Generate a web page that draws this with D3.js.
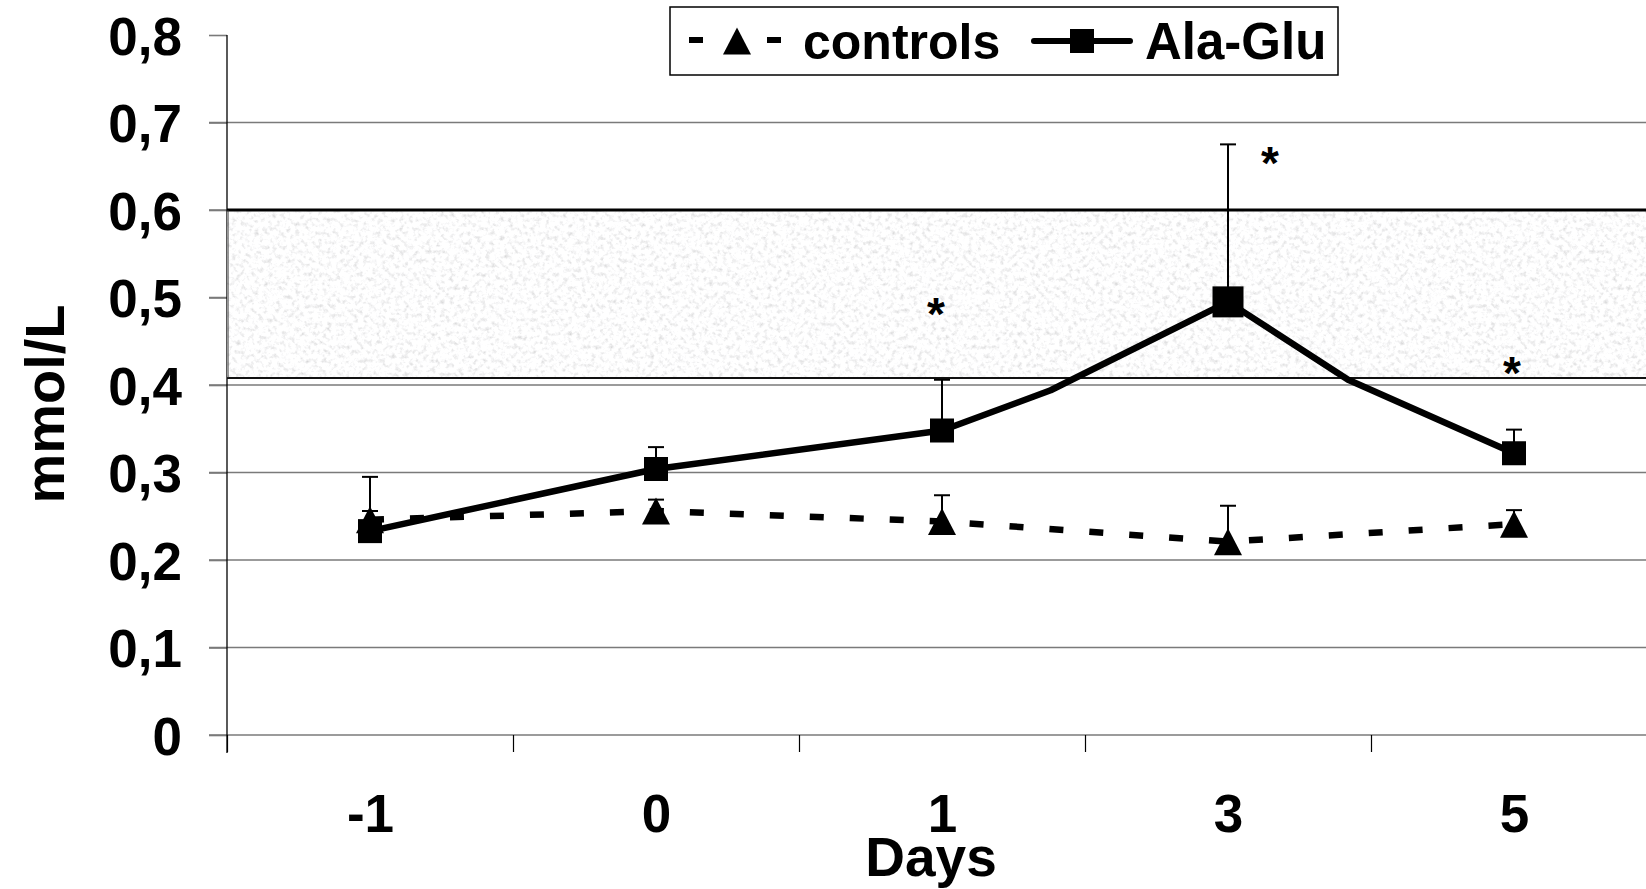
<!DOCTYPE html>
<html>
<head>
<meta charset="utf-8">
<script src="https://cdn.jsdelivr.net/npm/d3@7"></script>
<style>
  html, body { margin: 0; padding: 0; background: #fff; overflow: hidden; }
  text { font-family: "Liberation Sans", Arial, sans-serif; font-weight: bold; fill: #000; }
</style>
</head>
<body>
<svg id="chart" width="1646" height="889"></svg>
<script>
// Days on the x axis
const days = ["-1", "0", "1", "3", "5"];

// Ala-Glu group: mean and upper error
const alaGlu = [0.233, 0.304, 0.348, 0.495, 0.322];
const alaGluSD = [0.062, 0.025, 0.058, 0.18, 0.027];
// bends the drawn Ala-Glu line makes between days (slot position, value)
const alaGluBendPos = [2.38, 3.42];
const alaGluBendVal = [0.394, 0.406];

// controls group
const controls = [0.246, 0.256, 0.244, 0.221, 0.241];
const controlsSD = [0.01, 0.013, 0.03, 0.041, 0.016];

// shaded normal range
const normalRange = [0.408, 0.6];

// significance stars
const starDays = ["1", "3", "5"];
const starVals = [0.488, 0.66, 0.42];

const yTicks = [0, 0.1, 0.2, 0.3, 0.4, 0.5, 0.6, 0.7, 0.8];

const W = 1646;
const svg = d3.select("#chart");

const x = d3.scaleLinear().domain([-0.5, 4.5]).range([227, 1657]);
const y = d3.scaleLinear().domain([0, 0.8]).range([735, 35]);

// speckled texture for the normal range band
const defs = svg.append("defs");
const grain = defs.append("filter").attr("id", "grain")
  .attr("x", 0).attr("y", 0).attr("width", 1).attr("height", 1);
grain.append("feTurbulence").attr("type", "fractalNoise")
  .attr("baseFrequency", 0.22).attr("numOctaves", 3).attr("seed", 7).attr("result", "n");
grain.append("feColorMatrix").attr("in", "n").attr("type", "matrix")
  .attr("values", "0.7 0 0 0 0.64  0.7 0 0 0 0.64  0.7 0 0 0 0.645  0 0 0 0 1")
  .attr("result", "g");
grain.append("feComposite").attr("in", "g").attr("in2", "SourceGraphic").attr("operator", "in");

// gridlines
svg.append("g")
  .selectAll("line")
  .data(yTicks.filter(d => d < 0.8))
  .enter()
  .append("line")
  .attr("x1", 209).attr("x2", W)
  .attr("y1", d => y(d)).attr("y2", d => y(d))
  .attr("stroke", "#7a7a7a")
  .attr("stroke-width", 1.6);

// y axis
const yAxis = svg.append("g")
  .attr("transform", "translate(227,0)")
  .call(d3.axisLeft(y)
    .tickValues(yTicks)
    .tickSize(18)
    .tickPadding(27)
    .tickFormat(d => d === 0 ? "0" : d3.format(".1f")(d).replace(".", ",")));
yAxis.select(".domain").remove();
yAxis.selectAll(".tick line").attr("stroke", "#7a7a7a").attr("stroke-width", 1.6);
yAxis.selectAll(".tick text").attr("font-size", 53).attr("dy", "0.36em")
  .style("font-family", '"Liberation Sans", Arial, sans-serif').style("font-weight", "bold");

svg.append("line")
  .attr("x1", 227).attr("x2", 227)
  .attr("y1", y(0.8)).attr("y2", y(0) + 18)
  .attr("stroke", "#000").attr("stroke-width", 1.3);

// x axis ticks at slot boundaries
const xTicks = svg.append("g")
  .attr("transform", "translate(0,735)")
  .call(d3.axisBottom(x).tickValues([-0.5, 0.5, 1.5, 2.5, 3.5]).tickSize(17).tickFormat(""));
xTicks.select(".domain").remove();
xTicks.selectAll(".tick line").attr("stroke", "#000").attr("stroke-width", 1.2);

// x labels
const xLabels = svg.append("g")
  .attr("transform", "translate(0,735)")
  .call(d3.axisBottom(x).tickValues(d3.range(days.length)).tickSize(0).tickPadding(59)
    .tickFormat(i => days[i]));
xLabels.select(".domain").remove();
xLabels.selectAll(".tick text").attr("font-size", 53)
  .style("font-family", '"Liberation Sans", Arial, sans-serif').style("font-weight", "bold");

// axis titles
svg.append("text")
  .attr("x", 931).attr("y", 876)
  .attr("text-anchor", "middle")
  .attr("font-size", 55)
  .text("Days");

svg.append("text")
  .attr("transform", "translate(64,404) rotate(-90)")
  .attr("text-anchor", "middle")
  .attr("font-size", 56)
  .text("mmol/L");

// normal range band
svg.append("rect")
  .attr("x", 227).attr("y", y(normalRange[1]))
  .attr("width", W - 227).attr("height", y(normalRange[0]) - y(normalRange[1]))
  .attr("fill", "#f0f0f0")
  .attr("filter", "url(#grain)");
svg.append("line")
  .attr("x1", 227).attr("x2", W).attr("y1", y(normalRange[1])).attr("y2", y(normalRange[1]))
  .attr("stroke", "#000").attr("stroke-width", 3);
svg.append("line")
  .attr("x1", 227).attr("x2", W).attr("y1", y(normalRange[0])).attr("y2", y(normalRange[0]))
  .attr("stroke", "#111").attr("stroke-width", 2);
svg.append("line")
  .attr("x1", 228).attr("x2", 228).attr("y1", y(normalRange[1])).attr("y2", y(normalRange[0]))
  .attr("stroke", "#333").attr("stroke-width", 1);

// lines
const line = d3.line().x(d => x(d[0])).y(d => y(d[1]));

const controlsPts = controls.map((v, i) => [i, v]);
svg.append("path")
  .datum(controlsPts)
  .attr("d", line)
  .attr("fill", "none")
  .attr("stroke", "#000")
  .attr("stroke-width", 6.5)
  .attr("stroke-dasharray", "14,26");

const alaPts = alaGlu.map((v, i) => [i, v])
  .concat(alaGluBendPos.map((p, k) => [p, alaGluBendVal[k]]))
  .sort((a, b) => a[0] - b[0]);
svg.append("path")
  .datum(alaPts)
  .attr("d", line)
  .attr("fill", "none")
  .attr("stroke", "#000")
  .attr("stroke-width", 6.5)
  .attr("stroke-linejoin", "round");

// error bars (upper only)
function errorBars(means, sds) {
  const g = svg.append("g").attr("stroke", "#000").attr("stroke-width", 2);
  g.selectAll("line.v")
    .data(means)
    .enter()
    .append("line")
    .attr("x1", (d, i) => x(i)).attr("x2", (d, i) => x(i))
    .attr("y1", d => y(d)).attr("y2", (d, i) => y(d + sds[i]));
  g.selectAll("line.c")
    .data(means)
    .enter()
    .append("line")
    .attr("x1", (d, i) => x(i) - 8).attr("x2", (d, i) => x(i) + 8)
    .attr("y1", (d, i) => y(d + sds[i])).attr("y2", (d, i) => y(d + sds[i]));
}
errorBars(controls, controlsSD);
errorBars(alaGlu, alaGluSD);

// markers
const tri = "M0,-13.5L14,13.5L-14,13.5Z";
svg.append("g")
  .selectAll("path")
  .data(controls)
  .enter()
  .append("path")
  .attr("d", tri)
  .attr("transform", (d, i) => `translate(${x(i)},${y(d)})`)
  .attr("fill", "#000");

const sq = i => (days[i] === "3" ? 31 : 24);
svg.append("g")
  .selectAll("rect")
  .data(alaGlu)
  .enter()
  .append("rect")
  .attr("x", (d, i) => x(i) - sq(i) / 2)
  .attr("y", (d, i) => y(d) - sq(i) / 2)
  .attr("width", (d, i) => sq(i))
  .attr("height", (d, i) => sq(i))
  .attr("fill", "#000");

// stars
const starDx = { "1": -6, "3": 42, "5": -2 };
svg.append("g")
  .selectAll("text")
  .data(starDays)
  .enter()
  .append("text")
  .attr("x", d => x(days.indexOf(d)) + starDx[d])
  .attr("y", (d, i) => y(starVals[i]))
  .attr("dy", "0.47em")
  .attr("text-anchor", "middle")
  .attr("font-size", 46)
  .text("*");

// legend
const lg = svg.append("g");
lg.append("rect")
  .attr("x", 670).attr("y", 7).attr("width", 668).attr("height", 68)
  .attr("fill", "#fff").attr("stroke", "#000").attr("stroke-width", 1.5);
lg.append("line")
  .attr("x1", 689).attr("x2", 781).attr("y1", 40).attr("y2", 40)
  .attr("stroke", "#000").attr("stroke-width", 6).attr("stroke-dasharray", "14,64");
lg.append("path").attr("d", tri).attr("transform", "translate(737,41)").attr("fill", "#000");
lg.append("text").attr("x", 803).attr("y", 59).attr("font-size", 50).text("controls");
lg.append("line")
  .attr("x1", 1034).attr("x2", 1130).attr("y1", 41).attr("y2", 41)
  .attr("stroke", "#000").attr("stroke-width", 6).attr("stroke-linecap", "round");
lg.append("rect").attr("x", 1070).attr("y", 29).attr("width", 24).attr("height", 24).attr("fill", "#000");
lg.append("text").attr("x", 1145).attr("y", 59).attr("font-size", 51).text("Ala-Glu");
</script>
</body>
</html>
